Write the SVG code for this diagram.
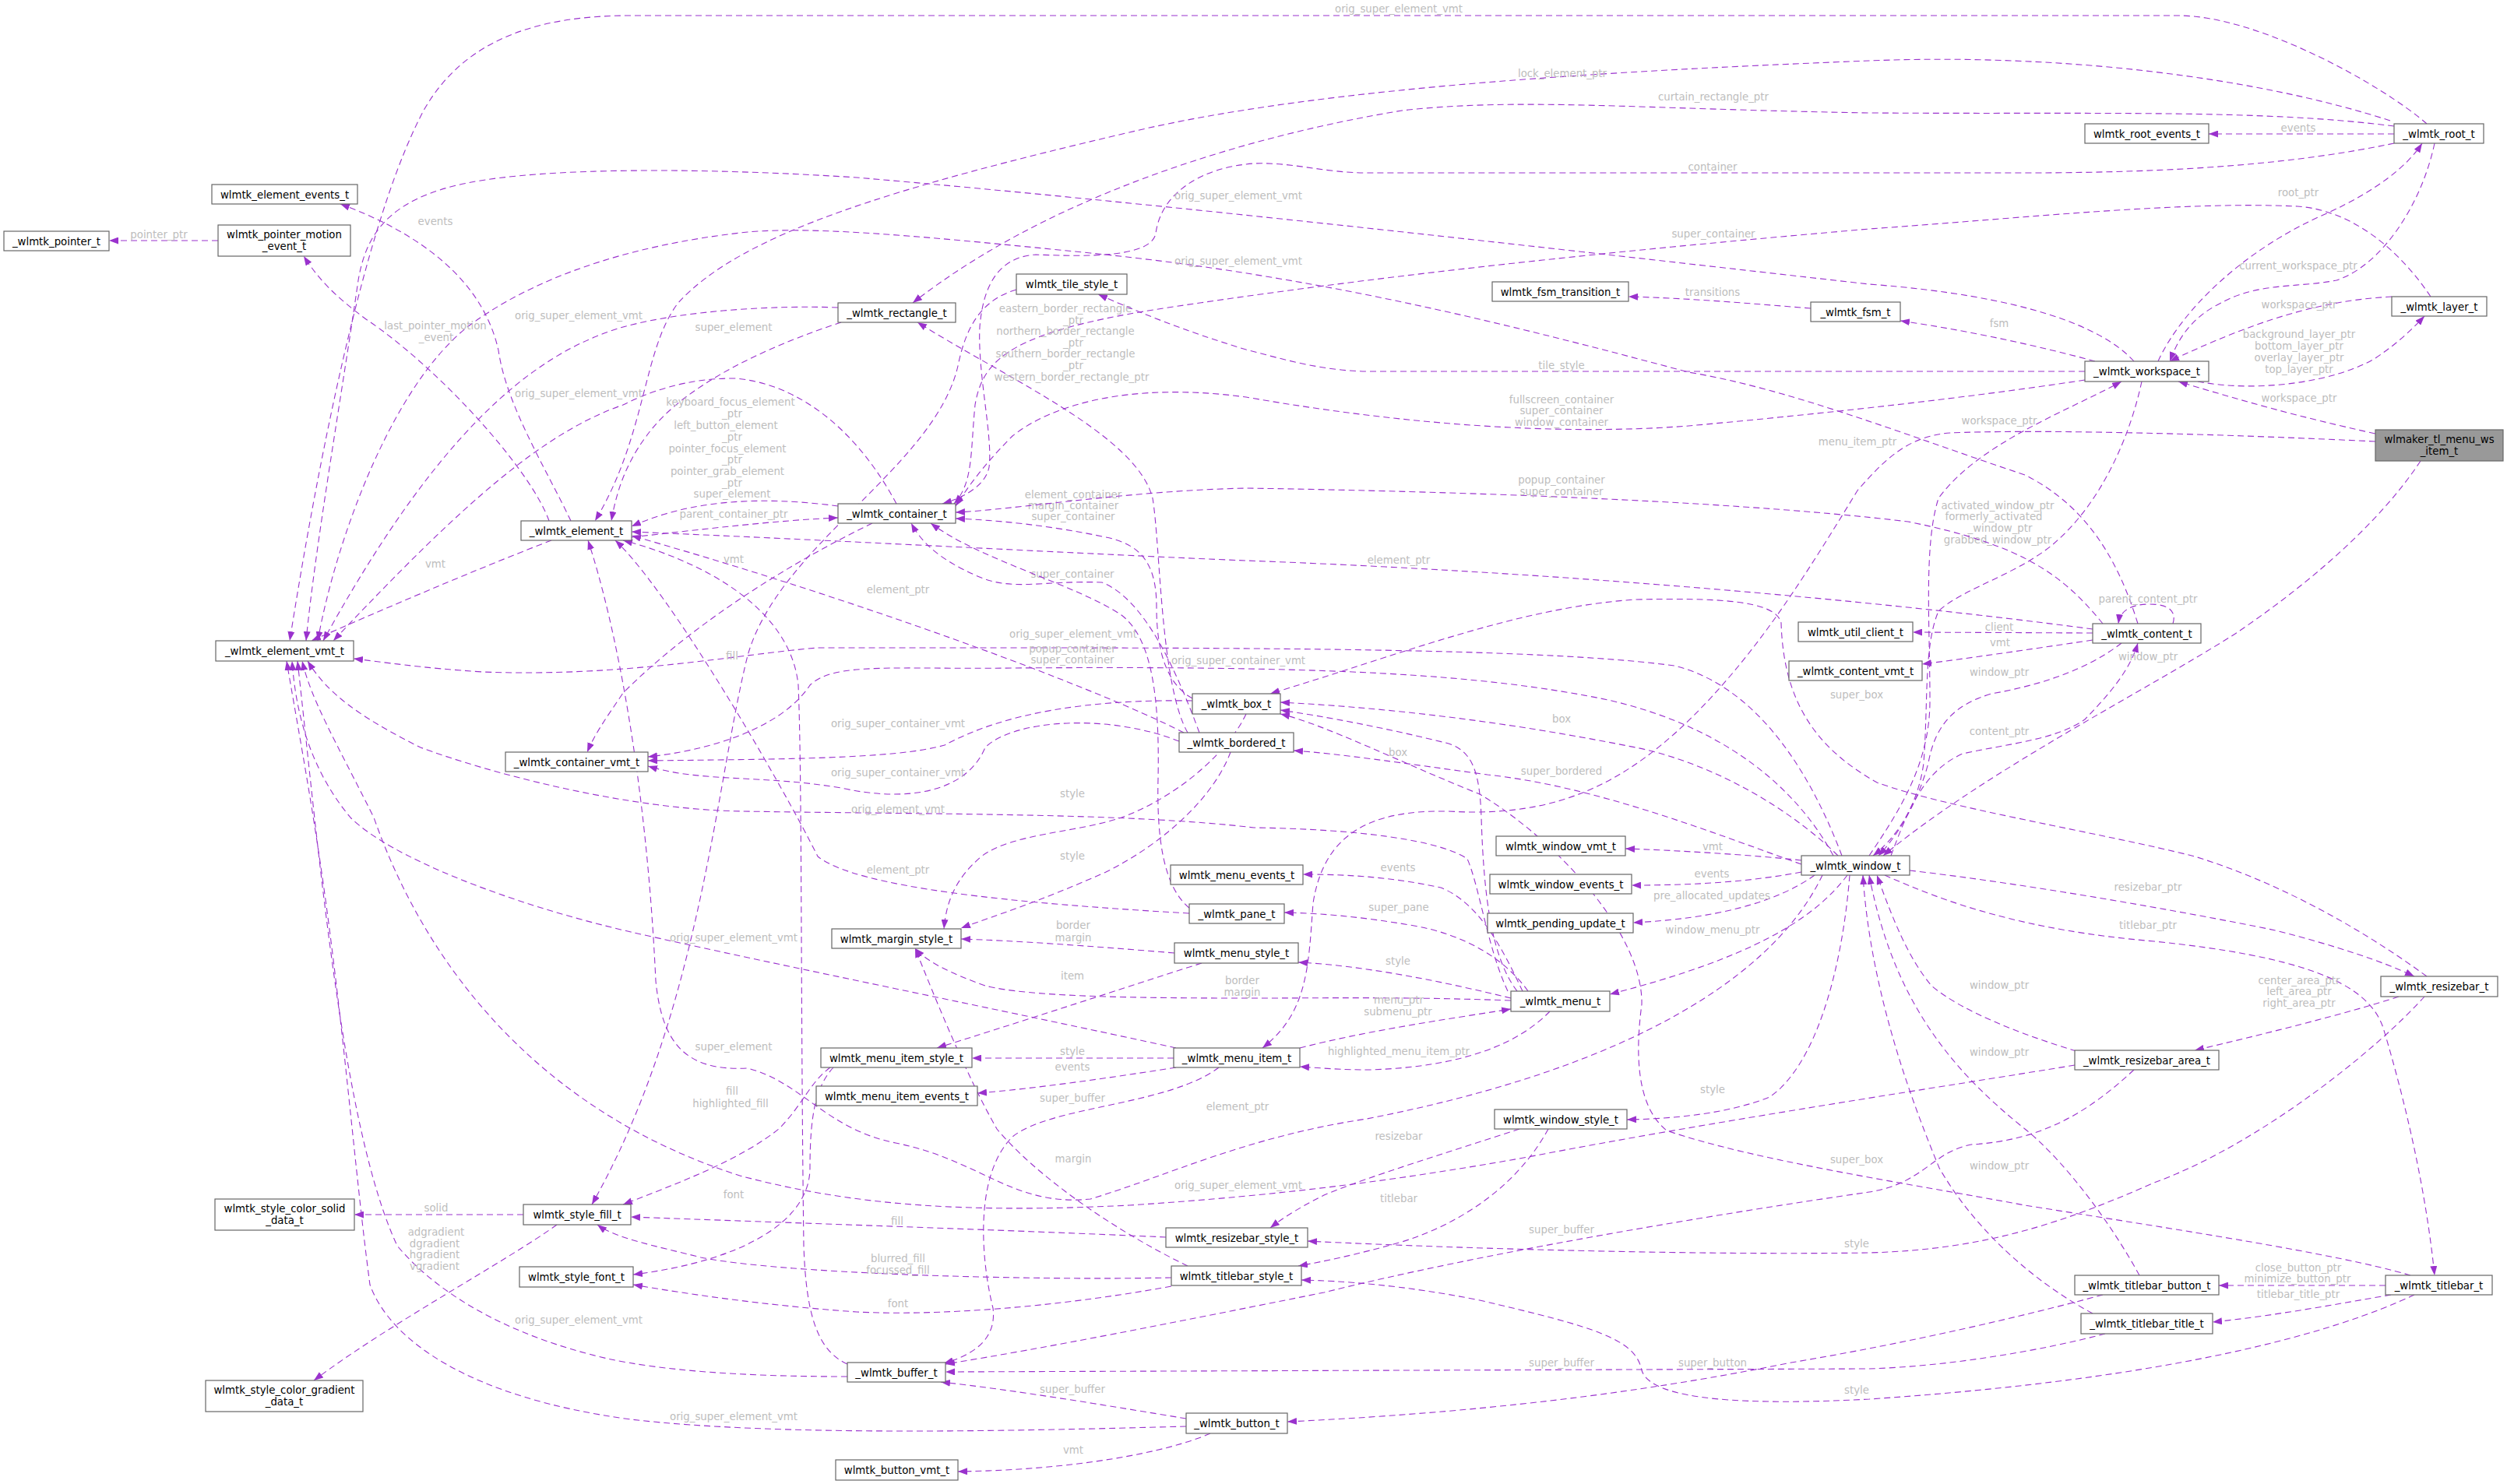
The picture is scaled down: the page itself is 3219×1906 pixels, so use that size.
<svg xmlns="http://www.w3.org/2000/svg" width="3219" height="1906" viewBox="0 0 3219 1906">
<defs>
<style>
.n rect{fill:#fff;stroke:#666;stroke-width:1.2}
.n text,.l{font-family:"DejaVu Sans","Liberation Sans",sans-serif;font-size:13.3px;text-anchor:middle}
.n text{fill:#000}
.l{fill:#bdbdbd}
.e path{fill:none;stroke:#9a32cd;stroke-width:1.1;stroke-dasharray:8,5;marker-end:url(#a)}
</style>
<marker id="a" markerWidth="13" markerHeight="9" refX="12" refY="4.5" orient="auto" markerUnits="userSpaceOnUse"><path d="M0,0 L12,4.5 L0,9 z" fill="#9a32cd" stroke="none"/></marker>
</defs>
<rect width="3219" height="1906" fill="#fff"/>
<g id="connectors">
<g class="e"><path d="M3116,159 C3060,110 2900,20 2797,20 L810,20 C700,20 600,45 545,140 C480,260 420,520 372,823"/><text class="l" x="1796" y="16">orig_super_element_vmt</text></g>
<g class="e"><path d="M3069,155 C2900,100 2650,68 2400,78 C2100,90 1700,110 1450,170 C1150,240 950,300 870,390 C825,450 830,560 764,669"/><text class="l" x="2006" y="99">lock_element_ptr</text></g>
<g class="e"><path d="M3074,162 C2900,140 2700,147 2400,145 C2100,140 1950,125 1800,142 C1600,175 1350,250 1172,389"/><text class="l" x="2200" y="129">curtain_rectangle_ptr</text></g>
<g class="e"><path d="M3074,172 L2836,172"/><text class="l" x="2951" y="169">events</text></g>
<g class="e"><path d="M3074,184 C2950,210 2800,222 2600,222 L1755,222 C1700,222 1660,208 1610,210 C1540,215 1490,250 1484,300 C1478,330 1400,330 1330,327 C1280,330 1262,370 1258,420 C1255,480 1275,560 1270,600 C1265,625 1235,640 1210,647"/><text class="l" x="2199" y="219">container</text></g>
<g class="e"><path d="M2771,464 C2800,400 2880,320 2990,273 C3050,245 3090,215 3110,184"/><text class="l" x="2951" y="252">root_ptr</text></g>
<g class="e"><path d="M3126,184 C3110,260 3060,340 3000,360 C2950,370 2900,362 2850,390 C2810,410 2795,440 2786,464"/><text class="l" x="2951" y="346">current_workspace_ptr</text></g>
<g class="e"><path d="M3121,381 C3080,320 3020,270 2950,265 C2800,258 2600,280 2400,294 C2100,320 1800,350 1500,395 C1300,425 1262,460 1252,520 C1246,580 1250,620 1225,647"/><text class="l" x="2200" y="305">super_container</text></g>
<g class="e"><path d="M2745,801 C2720,720 2680,650 2600,610 C2450,560 2300,500 2168,478 C1950,420 1700,355 1400,325 C1200,305 1050,290 960,298 C800,315 680,360 600,420 C500,500 430,700 408,823"/><text class="l" x="1590" y="340">orig_super_element_vmt</text></g>
<g class="e"><path d="M2740,464 C2700,420 2600,380 2400,365 C2000,320 1500,262 1100,228 C900,215 700,215 600,235 C500,255 470,300 460,360 C440,500 405,700 393,823"/><text class="l" x="1590" y="256">orig_super_element_vmt</text></g>
<g class="e"><path d="M1076,395 C1000,392 880,398 800,420 C680,455 560,560 415,823"/><text class="l" x="743" y="410">orig_super_element_vmt</text></g>
<g class="e"><path d="M1151,647 C1110,570 1040,495 945,486 C880,485 830,505 800,520 C700,555 600,640 428,823"/><text class="l" x="743" y="510">orig_super_element_vmt</text></g>
<g class="e"><path d="M1080,414 C1000,440 880,490 830,560 C800,600 790,640 785,669"/><text class="l" x="942" y="425">super_element</text></g>
<g class="e"><path d="M1076,650 C1000,640 900,636 811,676"/><text class="l" x="938" y="521">keyboard_focus_element</text><text class="l" x="940" y="536">_ptr</text><text class="l" x="932" y="551">left_button_element</text><text class="l" x="940" y="566">_ptr</text><text class="l" x="934" y="581">pointer_focus_element</text><text class="l" x="940" y="595">_ptr</text><text class="l" x="934" y="610">pointer_grab_element</text><text class="l" x="940" y="625">_ptr</text><text class="l" x="940" y="639">super_element</text></g>
<g class="e"><path d="M811,690 C900,680 1000,668 1076,665"/><text class="l" x="942" y="665">parent_container_ptr</text></g>
<g class="e"><path d="M733,669 C700,600 650,520 640,450 C620,360 540,300 437,262"/><text class="l" x="559" y="289">events</text></g>
<g class="e"><path d="M705,669 C680,600 560,470 470,410 C430,380 410,360 390,329"/><text class="l" x="559" y="423">last_pointer_motion</text><text class="l" x="560" y="438">_event</text></g>
<g class="e"><path d="M280,309 L140,309"/><text class="l" x="204" y="306">pointer_ptr</text></g>
<g class="e"><path d="M708,694 C640,720 520,770 400,823"/><text class="l" x="559" y="729">vmt</text></g>
<g class="e"><path d="M1120,672 C1000,730 880,810 800,890 C780,920 765,940 754,966"/><text class="l" x="942" y="723">vmt</text></g>
<g class="e"><path d="M1540,941 C1510,860 1470,770 1415,748 C1340,745 1300,760 1255,740 C1210,720 1185,700 1170,672"/><text class="l" x="1377" y="742">super_container</text></g>
<g class="e"><path d="M1531,897 C1500,880 1485,840 1485,780 C1485,730 1470,700 1420,690 C1350,675 1280,668 1227,666"/><text class="l" x="1378" y="640">element_container</text><text class="l" x="1378" y="654">margin_container</text><text class="l" x="1378" y="668">super_container</text></g>
<g class="e"><path d="M1527,1173 C1300,1160 1100,1140 1050,1100 C1000,1000 860,760 790,694"/><text class="l" x="1153" y="1122">element_ptr</text></g>
<g class="e"><path d="M1520,941 C1400,880 1100,770 811,688"/><text class="l" x="1153" y="762">element_ptr</text></g>
<g class="e"><path d="M1525,941 C1490,880 1490,700 1480,640 C1460,560 1300,490 1178,414"/><text class="l" x="1368" y="401">eastern_border_rectangle</text><text class="l" x="1378" y="416">_ptr</text><text class="l" x="1368" y="430">northern_border_rectangle</text><text class="l" x="1378" y="445">_ptr</text><text class="l" x="1368" y="459">southern_border_rectangle</text><text class="l" x="1378" y="474">_ptr</text><text class="l" x="1376" y="489">western_border_rectangle_ptr</text></g>
<g class="e"><path d="M1531,900 C1400,898 1290,915 1213,957 C1150,975 1000,975 832,977"/><text class="l" x="1153" y="934">orig_super_container_vmt</text></g>
<g class="e"><path d="M1514,952 C1420,915 1300,925 1265,960 C1240,1020 1160,1030 1080,1012 C980,995 900,1005 832,984"/><text class="l" x="1153" y="997">orig_super_container_vmt</text></g>
<g class="e"><path d="M2354,1099 C2300,1000 2200,930 2065,899 C1900,865 1700,855 1300,858 C1150,860 1070,850 1040,880 C1000,940 900,965 832,972"/><text class="l" x="1590" y="853">orig_super_container_vmt</text></g>
<g class="e"><path d="M1936,1273 C1910,1218 1900,1140 1884,1103 C1850,1080 1750,1065 1610,1063 C1450,1044 1200,1046 955,1042 C800,1040 620,990 540,960 C460,920 420,890 395,849"/><text class="l" x="1153" y="1044">orig_element_vmt</text></g>
<g class="e"><path d="M2365,1099 C2320,980 2250,880 2150,855 C2000,835 1700,832 1300,832 L1050,832 C950,840 800,870 620,863 C540,858 490,850 454,846"/><text class="l" x="1378" y="819">orig_super_element_vmt</text></g>
<g class="e"><path d="M1305,372 C1260,385 1240,420 1230,470 C1200,600 1000,700 960,842 C920,1000 900,1300 760,1547"/><text class="l" x="940" y="847">fill</text></g>
<g class="e"><path d="M1580,966 C1560,1020 1500,1080 1420,1120 C1330,1160 1280,1175 1234,1192"/><text class="l" x="1377" y="1024">style</text></g>
<g class="e"><path d="M1600,917 C1580,960 1520,1020 1440,1050 C1380,1070 1300,1070 1260,1100 C1225,1130 1215,1160 1212,1193"/><text class="l" x="1377" y="1104">style</text></g>
<g class="e"><path d="M1508,1224 C1400,1215 1300,1208 1234,1206"/><text class="l" x="1378" y="1193">border</text><text class="l" x="1378" y="1209">margin</text></g>
<g class="e"><path d="M1940,1285 C1800,1280 1700,1282 1610,1282 C1450,1282 1320,1280 1265,1266 C1220,1250 1190,1235 1175,1218"/><text class="l" x="1595" y="1264">border</text><text class="l" x="1595" y="1279">margin</text></g>
<g class="e"><path d="M1543,1237 C1470,1260 1350,1300 1203,1346"/><text class="l" x="1377" y="1258">item</text></g>
<g class="e"><path d="M1955,1273 C1930,1220 1900,1160 1850,1140 C1780,1125 1720,1123 1673,1123"/><text class="l" x="1795" y="1119">events</text></g>
<g class="e"><path d="M1962,1273 C1935,1235 1885,1200 1810,1188 C1750,1178 1700,1173 1649,1172"/><text class="l" x="1796" y="1170">super_pane</text></g>
<g class="e"><path d="M1940,1282 C1850,1260 1750,1240 1667,1236"/><text class="l" x="1795" y="1239">style</text></g>
<g class="e"><path d="M1948,1273 C1915,1230 1905,1150 1902,1050 C1900,990 1890,965 1860,955 C1780,935 1700,920 1644,912"/><text class="l" x="1795" y="971">box</text></g>
<g class="e"><path d="M2360,1099 C2300,1040 2200,980 2100,960 C1950,930 1800,910 1644,902"/><text class="l" x="2005" y="928">box</text></g>
<g class="e"><path d="M2313,1110 C2200,1070 2050,1010 1910,995 C1800,980 1720,968 1661,964"/><text class="l" x="2005" y="995">super_bordered</text></g>
<g class="e"><path d="M2313,1105 C2250,1098 2150,1092 2087,1090"/><text class="l" x="2199" y="1092">vmt</text></g>
<g class="e"><path d="M2313,1120 C2250,1132 2180,1137 2095,1137"/><text class="l" x="2198" y="1127">events</text></g>
<g class="e"><path d="M2330,1124 C2280,1160 2200,1180 2097,1185"/><text class="l" x="2198" y="1155">pre_allocated_updates</text></g>
<g class="e"><path d="M2372,1124 C2330,1180 2250,1230 2067,1277"/><text class="l" x="2199" y="1199">window_menu_ptr</text></g>
<g class="e"><path d="M2400,1099 C2440,1040 2478,980 2478,900 C2478,800 2470,700 2489,640 C2540,570 2650,530 2724,490"/><text class="l" x="2567" y="545">workspace_ptr</text></g>
<g class="e"><path d="M2750,490 C2735,560 2700,640 2645,691 C2600,735 2520,755 2489,785 C2470,830 2476,900 2470,980 C2462,1040 2430,1080 2405,1099"/><text class="l" x="2565" y="654">activated_window_ptr</text><text class="l" x="2560" y="668">formerly_activated</text><text class="l" x="2568" y="683">_window_ptr</text><text class="l" x="2565" y="698">grabbed_window_ptr</text></g>
<g class="e"><path d="M2724,826 C2680,860 2620,880 2557,891 C2510,905 2485,930 2476,980 C2460,1040 2430,1080 2412,1099"/><text class="l" x="2567" y="868">window_ptr</text></g>
<g class="e"><path d="M2428,1099 C2450,1040 2470,990 2520,968 C2580,955 2640,950 2677,924 C2710,890 2735,860 2745,826"/><text class="l" x="2567" y="944">content_ptr</text></g>
<g class="e"><path d="M3108,592 C3050,680 2950,760 2870,814 C2750,890 2550,990 2418,1099"/><text class="l" x="2758" y="848">window_ptr</text></g>
<g class="e"><path d="M2687,813 L2456,812"/><text class="l" x="2567" y="810">client</text></g>
<g class="e"><path d="M2687,822 C2600,835 2530,845 2468,853"/><text class="l" x="2568" y="830">vmt</text></g>
<g class="e"><path d="M2790,801 C2795,785 2785,776 2760,776 C2735,776 2722,785 2720,801"/><text class="l" x="2758" y="774">parent_content_ptr</text></g>
<g class="e"><path d="M2687,808 C2400,770 2000,735 1600,720 C1400,712 1100,695 811,683"/><text class="l" x="1796" y="724">element_ptr</text></g>
<g class="e"><path d="M2700,801 C2650,740 2600,700 2450,670 C2200,640 1800,630 1600,627 C1450,630 1300,655 1227,658"/><text class="l" x="2005" y="621">popup_container</text><text class="l" x="2005" y="636">super_container</text></g>
<g class="e"><path d="M1527,1166 C1495,1140 1485,1080 1487,1000 C1489,900 1480,820 1440,790 C1380,750 1260,720 1195,672"/><text class="l" x="1377" y="838">popup_container</text><text class="l" x="1377" y="852">super_container</text></g>
<g class="e"><path d="M2690,464 C2620,445 2530,425 2440,412"/><text class="l" x="2567" y="420">fsm</text></g>
<g class="e"><path d="M2325,396 C2250,390 2170,383 2091,381"/><text class="l" x="2199" y="380">transitions</text></g>
<g class="e"><path d="M2677,477 L1760,477 C1700,477 1650,462 1600,449 C1520,425 1460,400 1410,378"/><text class="l" x="2005" y="474">tile_style</text></g>
<g class="e"><path d="M2677,488 C2500,515 2300,535 2168,547 C2000,560 1800,545 1600,510 C1450,490 1350,520 1300,560 C1260,600 1240,630 1227,650"/><text class="l" x="2005" y="518">fullscreen_container</text><text class="l" x="2005" y="532">super_container</text><text class="l" x="2005" y="547">window_container</text></g>
<g class="e"><path d="M3071,381 C3000,385 2920,400 2786,464"/><text class="l" x="2952" y="396">workspace_ptr</text></g>
<g class="e"><path d="M2822,490 C2900,505 3000,490 3050,460 C3080,440 3100,420 3113,406"/><text class="l" x="2952" y="434">background_layer_ptr</text><text class="l" x="2952" y="449">bottom_layer_ptr</text><text class="l" x="2952" y="464">overlay_layer_ptr</text><text class="l" x="2952" y="479">top_layer_ptr</text></g>
<g class="e"><path d="M3050,567 C2800,555 2600,552 2504,556 C2450,560 2420,590 2385,630 C2330,720 2280,800 2220,870 C2100,1010 2000,1050 1860,1042 C1760,1040 1700,1070 1686,1160 C1680,1240 1680,1300 1621,1346"/><text class="l" x="2385" y="572">menu_item_ptr</text></g>
<g class="e"><path d="M3050,557 C2950,535 2880,515 2797,490"/><text class="l" x="2952" y="516">workspace_ptr</text></g>
<g class="e"><path d="M1669,1346 C1750,1325 1850,1310 1940,1296"/><text class="l" x="1796" y="1289">menu_ptr</text><text class="l" x="1795" y="1304">submenu_ptr</text></g>
<g class="e"><path d="M1990,1299 C1950,1340 1880,1370 1760,1374 C1720,1374 1700,1372 1669,1370"/><text class="l" x="1796" y="1355">highlighted_menu_item_ptr</text></g>
<g class="e"><path d="M1507,1359 L1248,1359"/><text class="l" x="1377" y="1355">style</text></g>
<g class="e"><path d="M1510,1371 C1420,1385 1330,1398 1255,1404"/><text class="l" x="1377" y="1375">events</text></g>
<g class="e"><path d="M1565,1371 C1500,1420 1350,1420 1300,1460 C1250,1510 1260,1620 1275,1680 C1280,1720 1250,1740 1212,1751"/><text class="l" x="1377" y="1415">super_buffer</text></g>
<g class="e"><path d="M1510,1346 C1300,1300 1000,1240 810,1197 C650,1160 500,1100 450,1050 C400,990 380,920 375,849"/><text class="l" x="942" y="1209">orig_super_element_vmt</text></g>
<g class="e"><path d="M2340,1124 C2280,1250 2100,1370 1755,1437 C1600,1460 1500,1510 1400,1540 C1300,1550 1260,1490 1150,1468 C1060,1450 1030,1390 960,1372 C880,1376 850,1340 842,1260 C830,1000 790,800 755,694"/><text class="l" x="1589" y="1426">element_ptr</text></g>
<g class="e"><path d="M1088,1752 C1050,1735 1035,1690 1032,1600 C1028,1300 1030,1000 1025,880 C1015,780 900,720 800,694"/><text class="l" x="942" y="1349">super_element</text></g>
<g class="e"><path d="M1066,1371 C1040,1390 1030,1420 1000,1450 C950,1490 870,1520 800,1547"/><text class="l" x="940" y="1406">fill</text><text class="l" x="938" y="1422">highlighted_fill</text></g>
<g class="e"><path d="M1070,1371 C1048,1395 1040,1430 1040,1500 C1040,1570 950,1620 813,1637"/><text class="l" x="942" y="1539">font</text></g>
<g class="e"><path d="M1497,1589 C1300,1580 1000,1570 810,1563"/><text class="l" x="1152" y="1573">fill</text></g>
<g class="e"><path d="M1504,1641 C1300,1645 1000,1635 900,1615 C840,1600 790,1590 767,1573"/><text class="l" x="1153" y="1621">blurred_fill</text><text class="l" x="1153" y="1636">focussed_fill</text></g>
<g class="e"><path d="M1504,1652 C1350,1680 1200,1690 1100,1685 C1000,1678 900,1665 813,1650"/><text class="l" x="1153" y="1679">font</text></g>
<g class="e"><path d="M1525,1626 C1430,1580 1330,1510 1280,1450 C1240,1380 1200,1280 1175,1218"/><text class="l" x="1378" y="1493">margin</text></g>
<g class="e"><path d="M1951,1450 C1860,1480 1760,1510 1700,1535 C1660,1555 1640,1570 1631,1577"/><text class="l" x="1796" y="1464">resizebar</text></g>
<g class="e"><path d="M1988,1450 C1950,1520 1880,1570 1800,1595 C1740,1612 1700,1620 1667,1626"/><text class="l" x="1796" y="1544">titlebar</text></g>
<g class="e"><path d="M2375,1124 C2365,1250 2330,1370 2272,1409 C2220,1430 2150,1437 2089,1438"/><text class="l" x="2199" y="1404">style</text></g>
<g class="e"><path d="M2452,1118 C2600,1135 2800,1170 2922,1195 C3000,1215 3060,1235 3100,1254"/><text class="l" x="2758" y="1144">resizebar_ptr</text></g>
<g class="e"><path d="M2420,1124 C2500,1160 2600,1195 2766,1209 C2950,1228 3040,1260 3060,1320 C3090,1420 3115,1530 3126,1638"/><text class="l" x="2758" y="1193">titlebar_ptr</text></g>
<g class="e"><path d="M3080,1280 C3020,1300 2900,1330 2818,1349"/><text class="l" x="2952" y="1264">center_area_ptr</text><text class="l" x="2952" y="1278">left_area_ptr</text><text class="l" x="2952" y="1293">right_area_ptr</text></g>
<g class="e"><path d="M3113,1280 C3050,1350 2900,1470 2766,1519 C2650,1570 2550,1605 2400,1609 C2200,1612 1900,1605 1679,1594"/><text class="l" x="2384" y="1602">style</text></g>
<g class="e"><path d="M3116,1254 C3027,1189 2922,1132 2818,1100 C2700,1070 2500,1038 2410,1005 C2330,960 2290,900 2287,800 C2280,770 2200,768 2100,770 C1950,780 1800,840 1631,891"/><text class="l" x="2384" y="897">super_box</text></g>
<g class="e"><path d="M3095,1638 C3000,1610 2800,1580 2600,1548 C2450,1520 2250,1490 2140,1452 C2100,1420 2100,1350 2108,1290 C2110,1200 2000,1080 1900,1020 C1800,980 1700,930 1644,917"/><text class="l" x="2384" y="1494">super_box</text></g>
<g class="e"><path d="M3063,1651 L2849,1651"/><text class="l" x="2951" y="1633">close_button_ptr</text><text class="l" x="2950" y="1647">minimize_button_ptr</text></g>
<g class="e"><path d="M3070,1663 C3000,1675 2920,1690 2841,1698"/><text class="l" x="2951" y="1667">titlebar_title_ptr</text></g>
<g class="e"><path d="M3100,1663 C3000,1710 2800,1770 2400,1797 C2250,1805 2120,1800 2108,1760 C2100,1720 2050,1705 1900,1670 C1800,1650 1720,1645 1671,1644"/><text class="l" x="2384" y="1790">style</text></g>
<g class="e"><path d="M2747,1638 C2710,1570 2650,1490 2600,1450 C2500,1370 2430,1280 2400,1124"/><text class="l" x="2567" y="1356">window_ptr</text></g>
<g class="e"><path d="M2687,1687 C2600,1640 2530,1570 2490,1500 C2440,1380 2400,1250 2392,1124"/><text class="l" x="2567" y="1502">window_ptr</text></g>
<g class="e"><path d="M2666,1350 C2600,1330 2520,1300 2480,1266 C2450,1230 2430,1180 2410,1124"/><text class="l" x="2567" y="1270">window_ptr</text></g>
<g class="e"><path d="M2740,1374 C2680,1430 2620,1465 2531,1470 C2480,1480 2470,1520 2400,1531 C2200,1560 1900,1610 1700,1660 C1500,1700 1350,1730 1214,1752"/><text class="l" x="2005" y="1584">super_buffer</text></g>
<g class="e"><path d="M2703,1713 C2620,1735 2500,1755 2400,1758 L1214,1762"/><text class="l" x="2005" y="1755">super_buffer</text></g>
<g class="e"><path d="M2700,1663 C2600,1690 2450,1725 2300,1750 C2150,1780 1950,1812 1653,1826"/><text class="l" x="2199" y="1755">super_button</text></g>
<g class="e"><path d="M1523,1822 C1420,1805 1300,1785 1208,1775"/><text class="l" x="1377" y="1789">super_buffer</text></g>
<g class="e"><path d="M1523,1832 C1300,1838 1000,1845 810,1823 C600,1795 500,1720 475,1650 C455,1500 440,1300 410,1100 C395,1000 380,920 368,849"/><text class="l" x="942" y="1824">orig_super_element_vmt</text></g>
<g class="e"><path d="M1088,1768 C950,1768 850,1760 780,1745 C650,1715 560,1660 510,1600 C440,1450 410,1100 382,849"/><text class="l" x="743" y="1700">orig_super_element_vmt</text></g>
<g class="e"><path d="M2664,1368 C2500,1395 2200,1440 1962,1486 C1800,1515 1650,1535 1450,1548 C1250,1558 1100,1550 950,1510 C700,1430 550,1250 480,1050 C430,950 400,900 388,849"/><text class="l" x="1590" y="1527">orig_super_element_vmt</text></g>
<g class="e"><path d="M1554,1841 C1500,1865 1380,1888 1230,1890"/><text class="l" x="1378" y="1867">vmt</text></g>
<g class="e"><path d="M672,1560 L455,1560"/><text class="l" x="560" y="1556">solid</text></g>
<g class="e"><path d="M715,1573 C650,1620 500,1700 403,1773"/><text class="l" x="560" y="1587">adgradient</text><text class="l" x="558" y="1602">dgradient</text><text class="l" x="558" y="1616">hgradient</text><text class="l" x="558" y="1631">vgradient</text></g>
</g>
<g id="n_pointer" class="n"><rect x="5" y="297" width="135" height="25"/><text x="72.5" y="314.5">_wlmtk_pointer_t</text></g>
<g id="n_element_events" class="n"><rect x="272" y="237" width="187" height="25"/><text x="365.5" y="254.5">wlmtk_element_events_t</text></g>
<g id="n_pointer_motion_event" class="n"><rect x="280" y="289" width="170" height="40"/><text x="365" y="306">wlmtk_pointer_motion</text><text x="365" y="321">_event_t</text></g>
<g id="n_rectangle" class="n"><rect x="1076" y="389" width="151" height="25"/><text x="1151.5" y="406.5">_wlmtk_rectangle_t</text></g>
<g id="n_tile_style" class="n"><rect x="1305" y="352" width="142" height="26"/><text x="1376" y="370">wlmtk_tile_style_t</text></g>
<g id="n_fsm_transition" class="n"><rect x="1916" y="362" width="175" height="25"/><text x="2003.5" y="379.5">wlmtk_fsm_transition_t</text></g>
<g id="n_fsm" class="n"><rect x="2325" y="388" width="115" height="25"/><text x="2382.5" y="405.5">_wlmtk_fsm_t</text></g>
<g id="n_root_events" class="n"><rect x="2677" y="159" width="159" height="25"/><text x="2756.5" y="176.5">wlmtk_root_events_t</text></g>
<g id="n_root" class="n"><rect x="3074" y="159" width="115" height="25"/><text x="3131.5" y="176.5">_wlmtk_root_t</text></g>
<g id="n_layer" class="n"><rect x="3071" y="381" width="122" height="25"/><text x="3132" y="398.5">_wlmtk_layer_t</text></g>
<g id="n_workspace" class="n"><rect x="2677" y="464" width="159" height="26"/><text x="2756.5" y="482">_wlmtk_workspace_t</text></g>
<g id="n_menu_ws_item" class="n"><rect x="3050" y="552" width="164" height="40" style="fill:#999"/><text x="3132" y="569">wlmaker_tl_menu_ws</text><text x="3132" y="584">_item_t</text></g>
<g id="n_element_vmt" class="n"><rect x="277" y="823" width="177" height="26"/><text x="365.5" y="841">_wlmtk_element_vmt_t</text></g>
<g id="n_element" class="n"><rect x="669" y="669" width="142" height="25"/><text x="740" y="686.5">_wlmtk_element_t</text></g>
<g id="n_container_vmt" class="n"><rect x="649" y="966" width="183" height="25"/><text x="740.5" y="983.5">_wlmtk_container_vmt_t</text></g>
<g id="n_container" class="n"><rect x="1076" y="647" width="151" height="25"/><text x="1151.5" y="664.5">_wlmtk_container_t</text></g>
<g id="n_box" class="n"><rect x="1531" y="891" width="113" height="26"/><text x="1587.5" y="909">_wlmtk_box_t</text></g>
<g id="n_bordered" class="n"><rect x="1514" y="941" width="147" height="25"/><text x="1587.5" y="958.5">_wlmtk_bordered_t</text></g>
<g id="n_menu_events" class="n"><rect x="1503" y="1111" width="170" height="25"/><text x="1588" y="1128.5">wlmtk_menu_events_t</text></g>
<g id="n_pane" class="n"><rect x="1527" y="1161" width="122" height="25"/><text x="1588" y="1178.5">_wlmtk_pane_t</text></g>
<g id="n_margin_style" class="n"><rect x="1068" y="1193" width="166" height="25"/><text x="1151" y="1210.5">wlmtk_margin_style_t</text></g>
<g id="n_menu_style" class="n"><rect x="1508" y="1211" width="159" height="26"/><text x="1587.5" y="1229">wlmtk_menu_style_t</text></g>
<g id="n_util_client" class="n"><rect x="2309" y="799" width="147" height="25"/><text x="2382.5" y="816.5">wlmtk_util_client_t</text></g>
<g id="n_content_vmt" class="n"><rect x="2297" y="849" width="171" height="25"/><text x="2382.5" y="866.5">_wlmtk_content_vmt_t</text></g>
<g id="n_window_vmt" class="n"><rect x="1921" y="1074" width="166" height="25"/><text x="2004" y="1091.5">wlmtk_window_vmt_t</text></g>
<g id="n_window_events" class="n"><rect x="1913" y="1123" width="182" height="25"/><text x="2004" y="1140.5">wlmtk_window_events_t</text></g>
<g id="n_pending_update" class="n"><rect x="1910" y="1173" width="187" height="25"/><text x="2003.5" y="1190.5">wlmtk_pending_update_t</text></g>
<g id="n_window" class="n"><rect x="2313" y="1099" width="139" height="25"/><text x="2382.5" y="1116.5">_wlmtk_window_t</text></g>
<g id="n_content" class="n"><rect x="2687" y="801" width="139" height="25"/><text x="2756.5" y="818.5">_wlmtk_content_t</text></g>
<g id="n_resizebar" class="n"><rect x="3057" y="1254" width="150" height="26"/><text x="3132" y="1272">_wlmtk_resizebar_t</text></g>
<g id="n_menu_item_style" class="n"><rect x="1054" y="1346" width="194" height="25"/><text x="1151" y="1363.5">wlmtk_menu_item_style_t</text></g>
<g id="n_menu_item_events" class="n"><rect x="1048" y="1395" width="207" height="25"/><text x="1151.5" y="1412.5">wlmtk_menu_item_events_t</text></g>
<g id="n_menu_item" class="n"><rect x="1507" y="1346" width="162" height="25"/><text x="1588" y="1363.5">_wlmtk_menu_item_t</text></g>
<g id="n_resizebar_style" class="n"><rect x="1497" y="1577" width="182" height="25"/><text x="1588" y="1594.5">wlmtk_resizebar_style_t</text></g>
<g id="n_titlebar_style" class="n"><rect x="1504" y="1626" width="167" height="25"/><text x="1587.5" y="1643.5">wlmtk_titlebar_style_t</text></g>
<g id="n_buffer" class="n"><rect x="1088" y="1750" width="126" height="25"/><text x="1151" y="1767.5">_wlmtk_buffer_t</text></g>
<g id="n_button" class="n"><rect x="1523" y="1815" width="130" height="26"/><text x="1588" y="1833">_wlmtk_button_t</text></g>
<g id="n_button_vmt" class="n"><rect x="1073" y="1875" width="157" height="26"/><text x="1151.5" y="1893">wlmtk_button_vmt_t</text></g>
<g id="n_color_solid" class="n"><rect x="276" y="1540" width="179" height="40"/><text x="365.5" y="1557">wlmtk_style_color_solid</text><text x="365.5" y="1572">_data_t</text></g>
<g id="n_fill" class="n"><rect x="672" y="1547" width="138" height="26"/><text x="741" y="1565">wlmtk_style_fill_t</text></g>
<g id="n_font" class="n"><rect x="667" y="1627" width="146" height="26"/><text x="740" y="1645">wlmtk_style_font_t</text></g>
<g id="n_color_gradient" class="n"><rect x="264" y="1773" width="202" height="40"/><text x="365" y="1790">wlmtk_style_color_gradient</text><text x="365" y="1805">_data_t</text></g>
<g id="n_menu" class="n"><rect x="1940" y="1273" width="127" height="26"/><text x="2003.5" y="1291">_wlmtk_menu_t</text></g>
<g id="n_window_style" class="n"><rect x="1919" y="1425" width="170" height="25"/><text x="2004" y="1442.5">wlmtk_window_style_t</text></g>
<g id="n_resizebar_area" class="n"><rect x="2664" y="1349" width="185" height="25"/><text x="2756.5" y="1366.5">_wlmtk_resizebar_area_t</text></g>
<g id="n_titlebar_button" class="n"><rect x="2664" y="1638" width="185" height="25"/><text x="2756.5" y="1655.5">_wlmtk_titlebar_button_t</text></g>
<g id="n_titlebar_title" class="n"><rect x="2672" y="1687" width="169" height="26"/><text x="2756.5" y="1705">_wlmtk_titlebar_title_t</text></g>
<g id="n_titlebar" class="n"><rect x="3063" y="1638" width="137" height="25"/><text x="3131.5" y="1655.5">_wlmtk_titlebar_t</text></g>
</svg>
